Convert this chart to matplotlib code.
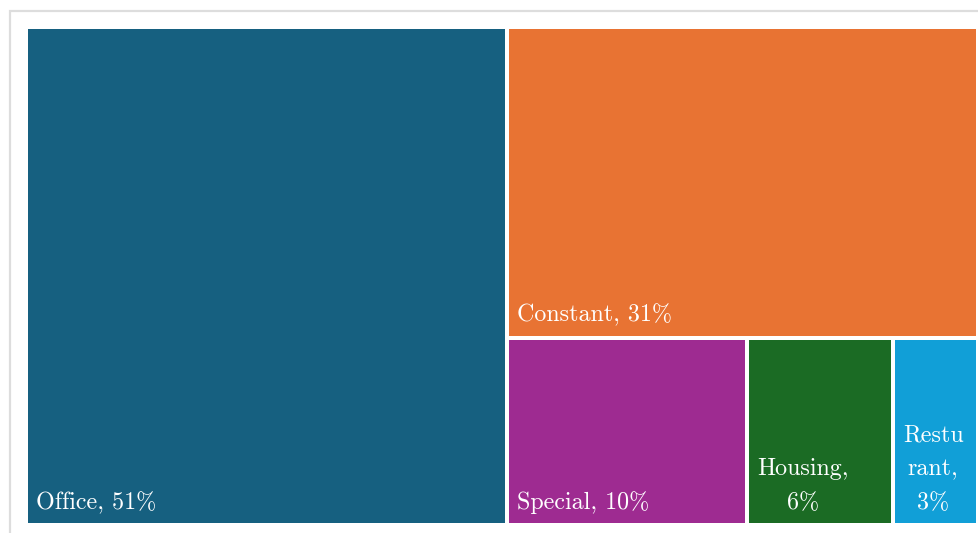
import textwrap
import matplotlib
matplotlib.use("Agg")
import matplotlib.pyplot as plt
from matplotlib.patches import Rectangle

# share of total, in percent
names = ["Office", "Constant", "Special", "Housing", "Resturant"]
shares = [51.0, 31.2, 9.6, 5.8, 3.4]
colors = ["#166080", "#e87333", "#9e2b91", "#1b6b24", "#119fd7"]

W, H = 979, 533
DPI = 100


def worst(row, side):
    s = sum(row)
    return max(max(side * side * r / (s * s), s * s / (side * side * r)) for r in row)


def layout_row(row, x, y, dx, dy):
    s = sum(row)
    rects = []
    if dx >= dy:
        # column on the left
        w = s / dy
        cy = y + dy
        for r in row:
            h = r / w
            rects.append((x, cy - h, w, h))
            cy -= h
        return rects, (x + w, y, dx - w, dy)
    # row along the top
    h = s / dx
    cx = x
    for r in row:
        w = r / h
        rects.append((cx, y + dy - h, w, h))
        cx += w
    return rects, (x, y, dx, dy - h)


def squarify(sizes, x, y, dx, dy):
    total = sum(sizes)
    areas = [v * dx * dy / total for v in sizes]
    out = []
    i = 0
    while i < len(areas):
        side = min(dx, dy)
        row = [areas[i]]
        i += 1
        while i < len(areas) and worst(row + [areas[i]], side) <= worst(row, side):
            row.append(areas[i])
            i += 1
        rects, (x, y, dx, dy) = layout_row(row, x, y, dx, dy)
        out.extend(rects)
    return out


fig = plt.figure(figsize=(W / DPI, H / DPI), dpi=DPI)

# light frame around the panel (runs off the right and bottom edges)
fig.add_artist(Rectangle((10 / W, -0.05), 1.1, (H - 11) / H + 0.05,
                         transform=fig.transFigure, fill=False,
                         edgecolor="#dddddd", linewidth=1.6))

left, top, right, bottom = 26, 27, 978, 525
ax = fig.add_axes([left / W, 1 - bottom / H, (right - left) / W, (bottom - top) / H])
dx, dy = right - left, bottom - top
ax.set_xlim(0, dx)
ax.set_ylim(0, dy)
ax.axis("off")

pad = 2
for name, share, color, (x, y, w, h) in zip(names, shares, colors,
                                            squarify(shares, 0, 0, dx, dy)):
    ax.add_patch(Rectangle((x + pad, y + pad), w - 2 * pad, h - 2 * pad,
                           facecolor=color, edgecolor="none"))
    label = f"{name}, {round(share)}%"
    chars = max(1, int((w - 2 * pad - 16) / 13))
    text = "\n".join(textwrap.wrap(label, chars, break_long_words=True))
    ax.text(x + pad + 8, y + pad + 9, text, color="white", fontsize=17.3,
            family="cmr10", ha="left", va="bottom", multialignment="center",
            linespacing=1.68)

fig.savefig("out.png", dpi=DPI)
